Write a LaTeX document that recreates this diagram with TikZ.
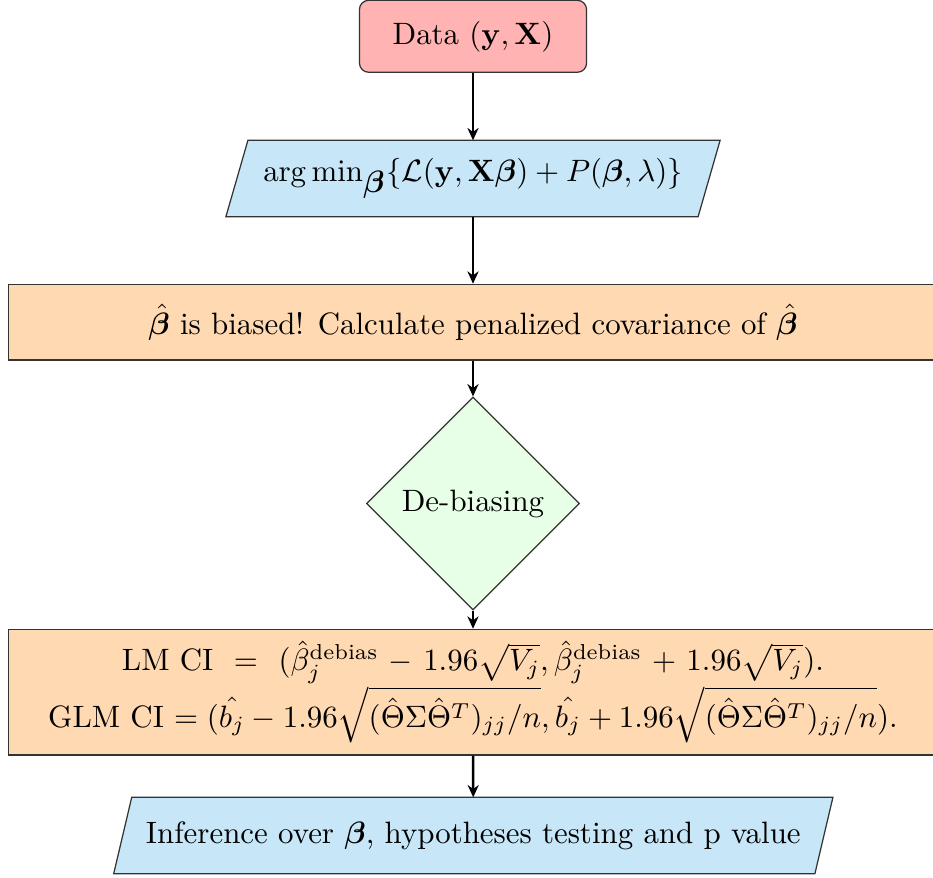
\documentclass[tikz,border=0pt]{standalone}
\usepackage{amsmath,amssymb,bm}
\usetikzlibrary{shapes.geometric,arrows.meta,calc,backgrounds}
\definecolor{pinkfill}{RGB}{255,179,179}
\definecolor{bluefill}{RGB}{199,230,247}
\definecolor{orangefill}{RGB}{255,217,178}
\definecolor{greenfill}{RGB}{230,255,230}
\begin{document}
\begin{tikzpicture}[x=0.3236pt,y=-0.3236pt,
  every node/.style={font=\normalsize, inner sep=0pt, align=center},
  startbox/.style={draw=black!80, fill=pinkfill, rounded corners=3pt, minimum width=73.5pt, minimum height=23.3pt},
  parabody/.style={minimum height=24.3pt},
  parashape/.style={draw=black!80, fill=bluefill},
  procbox/.style={draw=black!80, fill=orangefill, minimum width=300.5pt},
  decision/.style={draw=black!80, fill=greenfill, diamond, aspect=1, minimum width=68.9pt, minimum height=68.9pt},
  flow/.style={-{Stealth[length=4pt,width=3.6pt]}, thick}]
\useasboundingbox (0,0) rectangle (933,877);

\node[startbox] (data) at (473,36.3) {Data $(\mathbf{y},\mathbf{X})$};

\node[parabody, minimum width=152.4pt] (opt) at (473,178.5)
  {$\arg\min_{\textstyle\boldsymbol{\beta}}\{\mathcal{L}(\mathbf{y},\mathbf{X}\boldsymbol{\beta})+P(\boldsymbol{\beta},\lambda)\}$};

\node[procbox, minimum height=24.5pt] (bias) at (473,322.2)
  {$\hat{\boldsymbol{\beta}}$ is biased! Calculate penalized covariance of $\hat{\boldsymbol{\beta}}$};

\node[decision] (deb) at (473,503.5) {De-biasing};

\node[procbox, minimum height=40.7pt] (ci) at (473,692.2)
  {LM CI \ $=$ \ $(\hat{\beta}_j^{\text{debias}}$ $-$ $1.96\sqrt{V_j},\hat{\beta}_j^{\text{debias}}$ $+$ $1.96\sqrt{V_j}).$\\[0pt]
   GLM CI $=(\hat{b_j}-1.96\sqrt{(\hat{\Theta}\Sigma\hat{\Theta}^T)_{jj}/n},\hat{b_j}+1.96\sqrt{(\hat{\Theta}\Sigma\hat{\Theta}^T)_{jj}/n}).$};

\node[parabody, minimum width=226.5pt] (inf) at (473.3,835.5)
  {Inference over $\boldsymbol{\beta}$, hypotheses testing and p value};

\begin{scope}[on background layer]
\path[parashape] ($(opt.north west)+(11,0)$) -- ($(opt.north east)+(11,0)$)
  -- ($(opt.south east)+(-11,0)$) -- ($(opt.south west)+(-11,0)$) -- cycle;
\path[parashape] ($(inf.north west)+(9,0)$) -- ($(inf.north east)+(9,0)$)
  -- ($(inf.south east)+(-9,0)$) -- ($(inf.south west)+(-9,0)$) -- cycle;
\end{scope}

\draw[flow] (data) -- (opt);
\draw[flow] (opt) -- (bias);
\draw[flow] (bias) -- (deb);
\draw[flow] (deb) -- (ci);
\draw[flow] (ci) -- (inf);
\end{tikzpicture}
\end{document}
